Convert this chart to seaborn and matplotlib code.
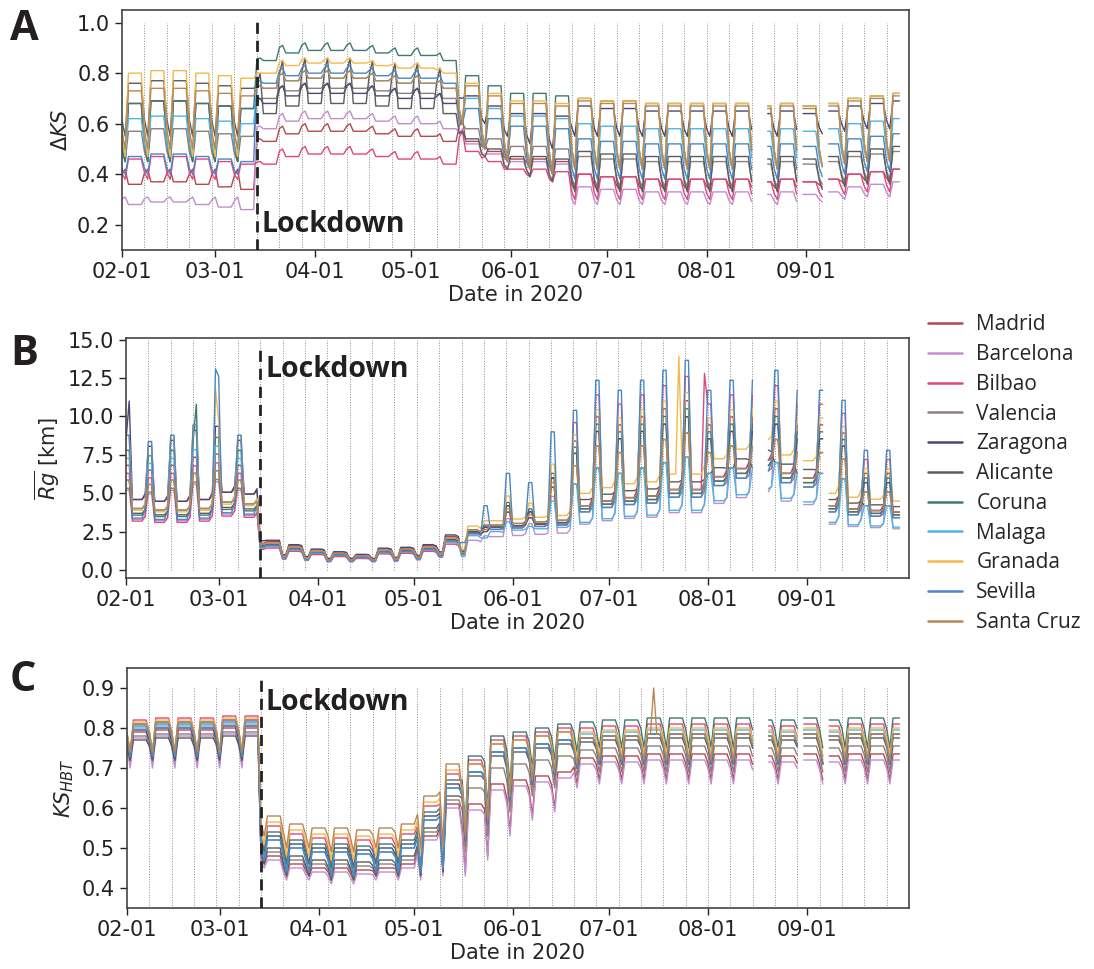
import pandas as pd
import seaborn as sns
import matplotlib
matplotlib.use('Agg')
import matplotlib.pyplot as plt
import matplotlib.dates as mdates
from matplotlib.lines import Line2D

cities = ['Madrid', 'Barcelona', 'Bilbao', 'Valencia', 'Zaragona', 'Alicante',
          'Coruna', 'Malaga', 'Granada', 'Sevilla', 'Santa Cruz']
colors = ['#b5474f', '#c28dcf', '#e3467f', '#8d7f7a', '#4b4778', '#5c5c5c',
          '#3e7a70', '#4db5e6', '#f5b84a', '#4a87c6', '#b98755']

start, end = '2020-02-01', '2020-09-30'
lockdown_day = '2020-03-14'
missing_days = ['2020-08-16', '2020-08-17', '2020-08-18', '2020-08-19',
                '2020-08-30', '2020-09-07']

# periods by week number (weeks start on Saturday 02-01)
period_names = ['pre', 'lock', 'open', 'post']
period_starts = [0, 6, 15, 20]

# weekly levels: wd = weekday level, we = weekend level
A_wd = [0.58, 0.59, 0.59, 0.58, 0.57, 0.56,
        0.68, 0.71, 0.72, 0.72, 0.72, 0.71, 0.70, 0.70, 0.68, 0.64,
        0.60, 0.57, 0.57, 0.56, 0.55, 0.54, 0.54, 0.53, 0.53, 0.53, 0.53,
        0.53, 0.52, 0.53, 0.52, 0.53, 0.55, 0.56, 0.57]
A_we = [0.46, 0.46, 0.46, 0.46, 0.46, 0.46,
        0.70, 0.75, 0.76, 0.76, 0.76, 0.75, 0.74, 0.74, 0.72, 0.62,
        0.52, 0.47, 0.44, 0.42, 0.39, 0.39, 0.39, 0.39, 0.39, 0.39, 0.39,
        0.39, 0.39, 0.39, 0.39, 0.40, 0.41, 0.42, 0.42]
# city offsets per period
A_dev_wd = {'pre': [-0.22, -0.30, -0.12, -0.01, 0.10, 0.18, 0.10, 0.04, 0.22, -0.11, 0.15],
            'lock': [-0.15, -0.10, -0.24, 0.02, 0.00, -0.04, 0.17, 0.06, 0.12, 0.08, 0.06],
            'open': [-0.11, -0.12, -0.15, -0.06, 0.07, -0.10, 0.15, 0.06, 0.12, 0.02, 0.11],
            'post': [-0.15, -0.20, -0.15, -0.08, 0.12, -0.06, 0.15, 0.05, 0.15, -0.01, 0.14]}
A_dev_we = {'pre': [-0.04, -0.15, -0.08, -0.01, -0.01, 0.09, -0.01, 0.01, 0.01, -0.06, 0.04],
            'lock': [-0.16, -0.11, -0.25, 0.00, 0.00, 0.10, 0.16, 0.05, 0.10, 0.07, 0.05],
            'open': [0.00, -0.04, -0.05, -0.02, 0.08, -0.05, -0.02, 0.00, -0.02, -0.02, -0.02],
            'post': [-0.05, -0.11, -0.09, -0.04, 0.16, -0.06, 0.03, 0.03, 0.03, -0.01, 0.03]}

B_wd = [3.9, 3.8, 3.8, 3.9, 4.3, 4.2,
        1.7, 1.45, 1.2, 1.05, 0.9, 1.25, 1.3, 1.45, 2.0, 2.5,
        2.8, 2.9, 3.0, 3.1, 4.0, 4.3, 4.5, 4.6, 5.0, 5.0, 5.8,
        6.3, 6.8, 6.0, 5.7, 4.0, 3.8, 3.7, 3.6]
B_we = [6.5, 6.2, 6.5, 7.0, 7.2, 6.5,
        1.6, 0.85, 0.75, 0.65, 0.65, 0.65, 0.7, 0.8, 1.0, 1.2,
        2.8, 4.2, 3.8, 6.0, 8.0, 9.5, 9.0, 9.5, 10.0, 10.5, 9.0,
        9.5, 9.5, 10.0, 9.0, 9.0, 8.5, 6.0, 6.0]
# city factors per period
B_fac_wd = {'pre': [1.18, 0.85, 0.82, 1.03, 1.18, 0.95, 0.92, 1.03, 1.00, 0.87, 1.03],
            'lock': [1.10, 0.90, 0.85, 1.00, 1.15, 1.00, 0.95, 0.92, 1.05, 0.95, 1.05],
            'open': [1.00, 0.78, 0.95, 1.00, 1.00, 1.00, 1.05, 0.90, 1.15, 0.95, 1.05],
            'post': [1.00, 0.75, 1.05, 0.95, 1.05, 1.15, 1.00, 0.78, 1.25, 0.95, 1.05]}
B_fac_we = {'pre': [1.05, 0.80, 0.97, 0.82, 1.30, 0.90, 1.20, 1.12, 1.35, 1.35, 0.90],
            'lock': [1.10, 0.90, 0.85, 1.00, 1.20, 1.00, 0.95, 0.90, 1.05, 0.95, 1.05],
            'open': [1.00, 0.80, 1.00, 0.90, 1.00, 0.90, 1.05, 0.75, 1.15, 1.50, 0.95],
            'post': [1.05, 0.95, 1.20, 0.85, 0.95, 0.70, 1.00, 0.70, 1.10, 1.30, 0.85]}

C_wd = [0.80, 0.805, 0.805, 0.805, 0.81, 0.81,
        0.52, 0.50, 0.49, 0.49, 0.485, 0.49, 0.50, 0.57, 0.65, 0.69,
        0.74, 0.75, 0.76, 0.77, 0.775, 0.78, 0.78, 0.785, 0.785, 0.785, 0.785,
        0.785, 0.78, 0.78, 0.785, 0.78, 0.785, 0.785, 0.785]
C_we = [0.73, 0.73, 0.73, 0.73, 0.73, 0.73,
        0.47, 0.44, 0.44, 0.43, 0.43, 0.44, 0.44, 0.44, 0.45, 0.52,
        0.56, 0.62, 0.66, 0.68, 0.70, 0.71, 0.71, 0.71, 0.71, 0.71, 0.71,
        0.71, 0.71, 0.71, 0.71, 0.71, 0.71, 0.71, 0.71]
C_dev_wd = {'pre': [-0.01, -0.025, 0.02, -0.02, -0.005, -0.03, 0.01, 0.0, 0.015, 0.005, 0.01],
            'lock': [-0.04, -0.05, 0.035, -0.03, 0.01, -0.02, 0.02, 0.0, 0.045, 0.0, 0.06],
            'open': [-0.08, -0.095, 0.03, -0.04, 0.0, -0.01, 0.04, 0.0, 0.02, 0.0, 0.02],
            'post': [-0.05, -0.065, 0.025, -0.03, 0.0, -0.01, 0.04, 0.01, 0.015, 0.0, 0.0]}
C_dev_we = {'pre': [-0.02, -0.03, 0.0, -0.01, -0.01, -0.01, 0.01, 0.0, 0.01, 0.0, 0.01],
            'lock': [-0.01, -0.02, 0.02, -0.01, 0.0, -0.01, 0.02, 0.0, 0.04, 0.0, 0.06],
            'open': [-0.08, -0.09, -0.01, -0.03, 0.0, 0.0, 0.04, 0.02, 0.02, 0.0, 0.01],
            'post': [-0.04, -0.05, 0.0, -0.02, 0.0, 0.0, 0.04, 0.02, 0.02, 0.0, 0.01]}

# share of the weekend level taken by each weekday (Mon=0 .. Sun=6)
A_profile = {5: 0.7, 6: 1.0}
B_profile = {4: 0.1, 5: 1.0, 6: 1.0}
C_profile = {5: 0.35, 6: 1.0}

# single days that stand out
spike_panel = ['B', 'B', 'B', 'B', 'B', 'B', 'B', 'C']
spike_city = ['Zaragona', 'Coruna', 'Sevilla', 'Sevilla', 'Granada', 'Granada', 'Bilbao', 'Santa Cruz']
spike_date = ['2020-02-02', '2020-02-23', '2020-02-29', '2020-03-01', '2020-02-29',
              '2020-07-23', '2020-07-31', '2020-07-15']
spike_value = [11.0, 10.8, 13.1, 12.6, 11.8, 13.9, 12.8, 0.90]


def period_of(week):
    name = period_names[0]
    for n, s in zip(period_names, period_starts):
        if week >= s:
            name = n
    return name


def build(panel, wd, we, dev_wd, dev_we, profile, mode):
    days = pd.date_range(start, end)
    gaps = set(pd.to_datetime(missing_days))
    t0 = pd.Timestamp(start)
    rows = []
    for i, city in enumerate(cities):
        seg = 0
        for d in days:
            if d in gaps:
                seg += 1
                continue
            week = (d - t0).days // 7
            period = period_of(week)
            if mode == 'mul':
                lo = wd[week] * dev_wd[period][i]
                hi = we[week] * dev_we[period][i]
            else:
                lo = wd[week] + dev_wd[period][i]
                hi = we[week] + dev_we[period][i]
            p = profile.get(d.dayofweek, 0)
            rows.append((d, city, lo + p * (hi - lo), f'{city}_{seg}'))
    df = pd.DataFrame(rows, columns=['date', 'city', 'value', 'seg'])
    for pn, c, dt, v in zip(spike_panel, spike_city, spike_date, spike_value):
        if pn == panel:
            df.loc[(df.city == c) & (df.date == pd.Timestamp(dt)), 'value'] = v
    return df


dfA = build('A', A_wd, A_we, A_dev_wd, A_dev_we, A_profile, 'add')
dfB = build('B', B_wd, B_we, B_fac_wd, B_fac_we, B_profile, 'mul')
dfC = build('C', C_wd, C_we, C_dev_wd, C_dev_we, C_profile, 'add')

sns.set_style('ticks')
plt.rcParams['font.family'] = ['DejaVu Sans']
palette = dict(zip(cities, colors))

W, H = 1094, 969
fig = plt.figure(figsize=(W / 100, H / 100), dpi=100)


def box(l, t, r, b):
    return [l / W, 1 - b / H, (r - l) / W, (b - t) / H]


axA = fig.add_axes(box(122, 10, 909, 250))
axB = fig.add_axes(box(126, 338, 909, 578))
axC = fig.add_axes(box(127, 668, 909, 908))

saturdays = pd.date_range('2020-02-08', '2020-09-26', freq='7D')
settings = [
    (axA, dfA, (0.1, 1.05), (0.1, 1.0), 1.015, [0.2, 0.4, 0.6, 0.8, 1.0], r'$\Delta KS$', 0.17),
    (axB, dfB, (-0.5, 15.1), (0.0, 15.0), 14.5, [0, 2.5, 5, 7.5, 10, 12.5, 15], r'$\overline{Rg}$ [km]', 12.55),
    (axC, dfC, (0.35, 0.95), (0.35, 0.9), 0.925, [0.4, 0.5, 0.6, 0.7, 0.8, 0.9], r'$KS_{HBT}$', 0.845),
]

for ax, df, ylim, vl, lock_top, yticks, ylabel, text_y in settings:
    ax.vlines(saturdays, vl[0], vl[1], colors='#8a8a8a', linestyles=':', lw=0.7, zorder=0)
    sns.lineplot(data=df, x='date', y='value', hue='city', units='seg', estimator=None,
                 palette=palette, hue_order=cities, lw=1.0, ax=ax, legend=False)
    ax.vlines(pd.Timestamp(lockdown_day), ylim[0], lock_top, colors='#222222',
              linestyles=(0, (4, 2.5)), lw=2, zorder=5)
    ax.text(pd.Timestamp('2020-03-15 12:00'), text_y, 'Lockdown', fontsize=20.5,
            fontweight='bold', family='Open Sans', color='#231f20', va='baseline')
    ax.set_xlim(pd.Timestamp('2020-02-01'), pd.Timestamp('2020-10-03'))
    ax.set_ylim(*ylim)
    ax.set_yticks(yticks)
    if ax is axB:
        ax.set_yticklabels([f'{t:.1f}' for t in yticks])
    ax.xaxis.set_major_locator(mdates.MonthLocator(bymonth=range(2, 10)))
    ax.xaxis.set_major_formatter(mdates.DateFormatter('%m-%d'))
    ax.set_xlabel('Date in 2020', fontsize=15, labelpad=2)
    ax.set_ylabel(ylabel, fontsize=15)
    ax.tick_params(labelsize=15, length=5, width=1, colors='#222222')
    for s in ax.spines.values():
        s.set_color('#444444')
        s.set_linewidth(1.2)

for letter, y in [('A', 40), ('B', 365), ('C', 691)]:
    fig.text(10 / W, 1 - y / H, letter, fontsize=30, fontweight='bold',
             family='Open Sans', color='#231f20', va='baseline')

handles = [Line2D([0], [0], color=c, lw=1.8) for c in colors]
fig.legend(handles, cities, loc='upper left', bbox_to_anchor=(920 / W, 1 - 306 / H),
           frameon=False, prop={'family': 'Open Sans', 'size': 15},
           handlelength=1.6, labelspacing=0.42, handletextpad=0.7, borderaxespad=0)

fig.savefig('out.png', dpi=100)
